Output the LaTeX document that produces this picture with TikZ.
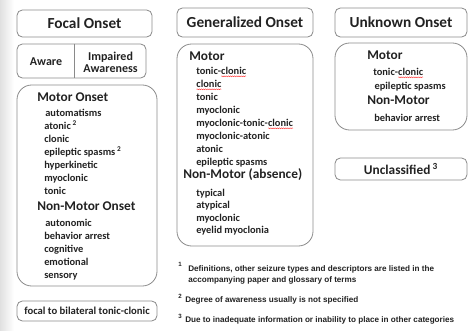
\documentclass[tikz,border=0pt]{standalone}
\usepackage{fontspec}
\setmainfont{Carlito}
\newfontfamily\notefont{Liberation Sans}
\usetikzlibrary{positioning,calc,decorations.pathmorphing}
\definecolor{boxline}{HTML}{8A8A8A}
\definecolor{ink}{HTML}{222222}
\tikzset{
    titlebox/.style={draw=boxline, rounded corners=4pt, line width=0.6pt, text=ink,
        inner sep=0pt, font=\bfseries\fontsize{11.5}{13}\selectfont},
    groupbox/.style={draw=boxline, rounded corners=11pt, line width=0.6pt, inner sep=0pt},
    grouphead/.style={anchor=west, inner sep=0pt, text=ink,
        font=\bfseries\fontsize{10}{12}\selectfont},
    grouplist/.style={anchor=north west, inner sep=0pt, align=left, text=ink,
        font=\bfseries\fontsize{7.8}{9.75}\selectfont},
    notetext/.style={anchor=west, inner sep=0pt, align=left, text=ink,
        font=\notefont\bfseries\fontsize{6.1}{8.25}\selectfont},
    notemark/.style={notetext, font=\notefont\bfseries\fontsize{4.6}{5}\selectfont}
}
% red spell-check squiggle under a word
\newcommand\spellmark[1]{\tikz[baseline=(w.base)]{%
    \node[inner sep=0pt, outer sep=0pt, anchor=base] (w) {#1};
    \draw[red!85, line width=0.3pt, decorate,
        decoration={snake, amplitude=0.35pt, segment length=1.6pt}]
        ([yshift=-1.3pt]w.base west) -- ([yshift=-1.3pt]w.base east);}}

\begin{document}
\begin{tikzpicture}[x=0.75pt, y=-0.75pt]
\useasboundingbox (0,0) rectangle (468,331);
\shade[left color=black!12, right color=white] (0,0) rectangle (14,331);

% focal onset column
\node[titlebox, minimum width=101.25pt, minimum height=20.25pt] (focal) at (84.5,23.5) {Focal Onset};
\node[titlebox, minimum width=96.75pt, minimum height=25.5pt] (awarebox) at (81.5,61) {};
\draw[boxline, line width=0.9pt] ($(awarebox.north west)+(58,0)$) -- ($(awarebox.south west)+(58,0)$);
\node[text=ink, font=\bfseries\fontsize{9}{9}\selectfont, inner sep=0pt] (aware) at (46,62) {Aware};
\node[text=ink, font=\bfseries\fontsize{9}{9}\selectfont, inner sep=0pt, align=center] (impaired) at (110.5,62) {Impaired\\Awareness};

\node[groupbox, minimum width=105pt, minimum height=150.75pt] (focalgroup) at (87,185.5) {};
\node[grouphead] (focalmotor) at (37,97) {Motor Onset};
\node[grouplist] (focalmotorlist) at (44,109) {\hspace*{0.8pt}automatisms\\atonic\,\textsuperscript{2}\\clonic\\
    epileptic spasms\,\textsuperscript{2}\\hyperkinetic\\myoclonic\\tonic};
\node[grouphead] (focalnonmotor) at (37,206) {Non-Motor Onset};
\node[grouplist] (focalnonmotorlist) at (44,219) {\hspace*{0.8pt}autonomic\\behavior arrest\\cognitive\\emotional\\sensory};

\node[titlebox, minimum width=105pt, minimum height=15pt, font=\bfseries\fontsize{8}{9}\selectfont]
    (bilateral) at (87,311) {focal to bilateral tonic-clonic};

% generalized onset column
\node[titlebox, minimum width=102pt, minimum height=21.75pt] (general) at (245,22.5) {Generalized Onset};
\node[groupbox, minimum width=102pt, minimum height=151.5pt] (generalgroup) at (245,145) {};
\node[grouphead] (generalmotor) at (189,56) {Motor};
\node[grouplist] (generalmotorlist) at (196,67) {tonic-\spellmark{clonic}\\\spellmark{clonic}\\tonic\\myoclonic\\
    myoclonic-tonic-\spellmark{clonic}\\myoclonic-atonic\\atonic\\epileptic spasms};
\node[grouphead] (generalnonmotor) at (183,175) {Non-Motor (absence)};
\node[grouplist, font=\bfseries\fontsize{7.8}{9.3}\selectfont] (generalnonmotorlist) at (196,189)
    {typical\\atypical\\myoclonic\\eyelid myoclonia};

% unknown onset column
\node[titlebox, minimum width=99pt, minimum height=21.75pt] (unknown) at (401,22.5) {Unknown Onset};
\node[groupbox, minimum width=99pt, minimum height=65.25pt] (unknowngroup) at (401,86.5) {};
\node[grouphead] (unknownmotor) at (367,55) {Motor};
\node[grouplist, font=\bfseries\fontsize{7.8}{10.5}\selectfont] (unknownmotorlist) at (373,68)
    {tonic-\spellmark{clonic}\\\hspace*{1pt}epileptic spasms};
\node[grouphead] (unknownnonmotor) at (367,100) {Non-Motor};
\node[grouplist, anchor=west] (unknownnonmotorlist) at (374,118) {behavior arrest};

\node[titlebox, minimum width=99pt, minimum height=16.5pt, font=\bfseries\fontsize{10}{11}\selectfont]
    (unclassified) at (401,169) {Unclassified\,\textsuperscript{3}};

% footnotes
\node[notemark] (mark1) at (178,264) {1};
\node[notetext] (note1) at (188,274.5) {Definitions, other seizure types and descriptors are listed in the\\
    accompanying paper and glossary of terms};
\node[notemark] (mark2) at (178,296) {2};
\node[notetext] (note2) at (185,300) {Degree of awareness usually is not specified};
\node[notemark] (mark3) at (178,316) {3};
\node[notetext] (note3) at (185,320) {Due to inadequate information or inability to place in other categories};
\end{tikzpicture}
\end{document}
